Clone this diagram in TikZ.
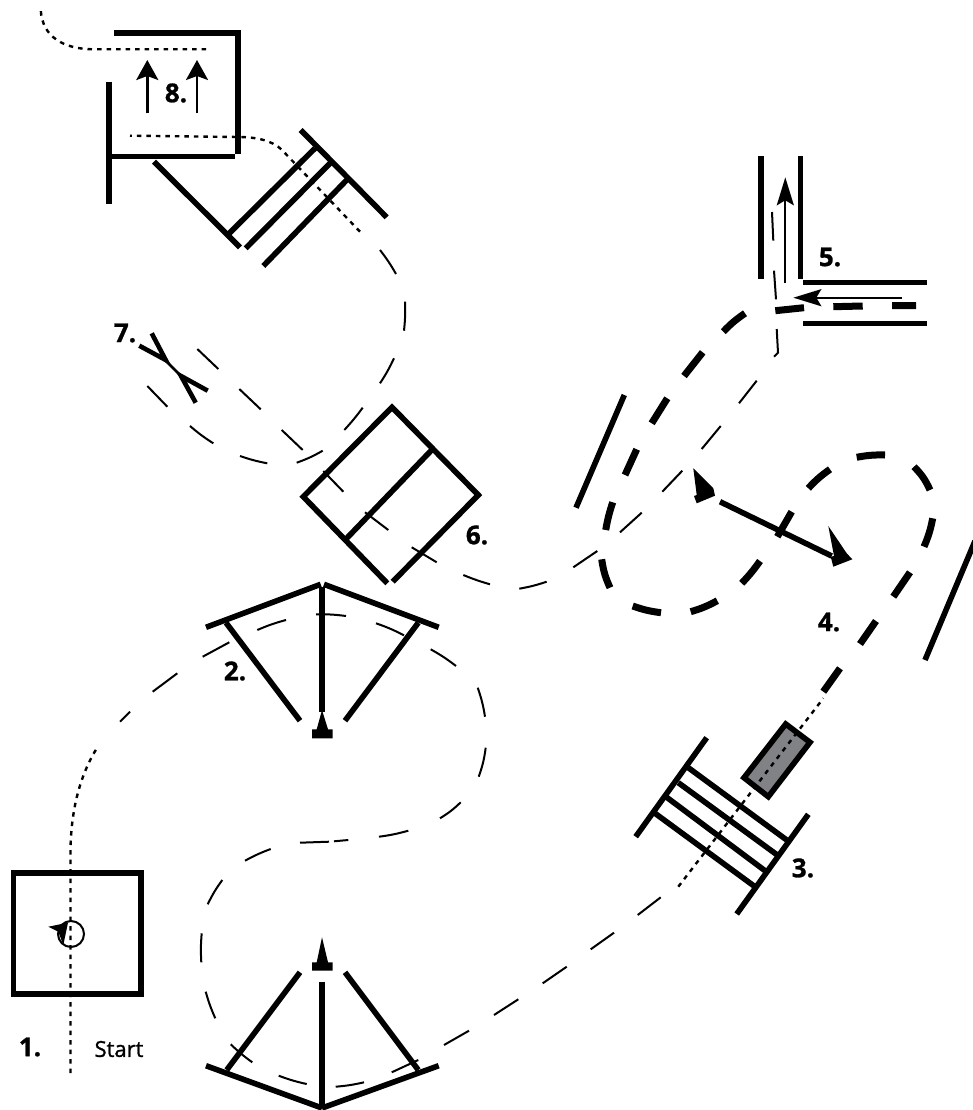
\documentclass[tikz,border=0pt]{standalone}
\usepackage{fontspec}
\setmainfont{Open Sans}
\newfontfamily\startfont[BoldFont={Open Sans},BoldFeatures={FakeBold=1.2}]{Open Sans}
\newfontfamily\numfont[BoldFeatures={RawFeature={embolden=1}}]{Open Sans}
\usepackage{tikz}
\usetikzlibrary{arrows.meta}
\definecolor{boxgray}{RGB}{128,130,133}

\begin{document}
\begin{tikzpicture}[
  x=1pt,y=-1pt,
  wall/.style={line width=5.6pt,black},
  course/.style={line width=2pt,black},
  coursebold/.style={line width=7pt,black},
  dots/.style={line width=2.4pt,black,dash pattern=on 4.5pt off 5pt},
  upstem/.style={line width=2.6pt,black,-{Stealth[length=20pt,width=22pt,inset=4pt]}},
  roadstem/.style={line width=2.2pt,black,-{Stealth[length=28pt,width=17pt,inset=5pt]}},
  label/.style={font=\fontsize{26}{26}\selectfont\numfont\bfseries,inner sep=0pt}
]
\useasboundingbox (0,0) rectangle (972,1110);
\fill[white] (0,0) rectangle (972,1110);
% 1. start box
\draw[wall] (13.5,873) rectangle (141,994);
\draw[line width=2pt] (71,934) circle (13);
\fill (48.3,926.7) -- (68,922.7) -- (63.3,945) -- (58.3,931.7) -- cycle;
\draw[dots] (70.5,1073) -- (70.5,850) .. controls (71,810) and (80,775) .. (97,748);
\node[label] (lab1) at (30,1047) {1.};
\node[font=\fontsize{22}{22}\selectfont\startfont\bfseries,inner sep=0pt] (start) at (119,1049) {Start};
% 2. the two fans
\draw[wall] (206,627.3) -- (320.7,584.3);
\draw[wall] (324,584.3) -- (438.7,627.3);
\draw[wall] (322,586.7) -- (322,711.7);
\draw[wall] (226,622.7) -- (300,720.7);
\draw[wall] (418.3,622.7) -- (345,720.7);
\fill (322,710) -- (328,729.3) -- (332.7,729.3) -- (332.7,738.3) -- (312,738.3) -- (312,729.3) -- (316.7,729.3) -- cycle;
\node[label] (lab2) at (235,671) {2.};
\draw[wall] (206,1065.7) -- (322,1108);
\draw[wall] (438.7,1065.7) -- (322,1108);
\draw[wall] (322,981.7) -- (322,1108);
\draw[wall] (226.7,1070) -- (300,972.3);
\draw[wall] (418.3,1070) -- (345,972.3);
\fill (322,937.3) -- (328,962.3) -- (332.7,962.3) -- (332.7,970.7) -- (312,970.7) -- (312,962.3) -- (316.7,962.3) -- cycle;
% first leg, thin dashes
\draw[course] (120,721.7) -- (130,711.7) (152.7,691.7) -- (177.3,673.3)
  (202.7,656.7) -- (229.3,642.3) (257.3,630) to[bend left=4] (286,620)
  (316,614.3) to[bend left=4] (346,616) (376,623.3) to[bend left=4] (404,635.3)
  (430.7,649.3) to[bend left=4] (456,666) (477.7,687.7) to[bend left=5] (485,716.7)
  (485.7,747.7) to[bend left=6] (478.7,776.7) (460.7,802.3) to[bend left=6] (440,818.3)
  (408.3,830.7) to[bend left=4] (379,836.7) (348.3,840) -- (334,841.3)
  (329,841.7) -- (300,842.7) (270.7,849) to[bend right=4] (245,860.7)
  (222.3,880) to[bend right=5] (207.7,904.3) (201.7,933.3) to[bend right=4] (201.3,962.3)
  (205.7,991.7) to[bend right=4] (215.3,1018.3) (230.7,1044.3) to[bend right=4] (252.3,1062.3)
  (278.7,1075.7) to[bend right=4] (306.7,1084) (335.7,1086.7) to[bend right=4] (364,1082.3)
  (391.7,1072.3) -- (418.3,1060) (444,1045) -- (469,1030.7)
  (494,1015) -- (518.3,999.3) (542.7,983.3) -- (566.7,966.7)
  (590.7,949.3) -- (614,932.7) (637.7,915) -- (660.7,897.3);
% 3. ladder and gray box
\draw[wall] (706.7,737.7) -- (635.7,836.7);
\draw[wall] (808.3,814.3) -- (736.7,914);
\draw[wall] (688.3,767.7) -- (786.7,840);
\draw[wall] (678.3,782.7) -- (777.3,855);
\draw[wall] (666.7,797.3) -- (765,870.7);
\draw[wall] (655,813.3) -- (754,886);
\draw[wall,fill=boxgray] (785.7,724) -- (810,742.3) -- (768.3,796.7) -- (744,777.7) -- cycle;
\draw[dots] (678.3,886.7) -- (823.3,698.3);
\node[label] (lab3) at (803,868) {3.};
% 4. bold course and arrow
\draw[coursebold] (823.3,691.7) -- (840,668.3) (860,644) -- (876,621)
  (893.3,596.7) -- (910,572.3) (924,546.7) to[bend right=6] (932.7,518.3)
  (930,490) to[bend right=10] (914,466.7) (885,455) to[bend right=6] (856.7,457.3)
  (830,469.3) to[bend right=6] (808.3,488.3) (791.7,511.7) -- (777.3,536.7)
  (760,561) to[bend left=4] (741.7,583.3) (717.3,600.7) to[bend left=6] (690.7,611.7)
  (661,612.7) to[bend left=6] (632.7,606) (610,587.7) to[bend left=8] (601.7,559.3)
  (605.7,530) to[bend left=4] (612.7,502.3) (625,475) -- (636.7,449.3)
  (651.7,423.3) -- (667.3,398.3) (684,376) -- (702.7,352.3)
  (723.3,331.7) to[bend left=6] (745,313.3) (775.3,310.7) -- (804,307.7)
  (833.3,306.7) -- (862.7,306) (892,305.7) -- (916,305.7);
\draw[wall] (720,501.7) -- (831.7,556);
\fill (693.3,468.3) -- (713.3,488.3) -- (715,495.7) -- (696.7,503.3) -- (694,496) -- (696.7,495) -- cycle;
\fill (828.3,526) -- (846.7,553.3) -- (852.3,559.3) -- (833.3,566.7) -- (830.7,556.7) -- (834,556) -- cycle;
\draw[wall] (624.3,395) -- (576,507.7);
\draw[wall] (975,541) -- (925,660);
\node[label] (lab4) at (829,622) {4.};
% 5. corner road
\draw[wall] (761,156) -- (761,279.3);
\draw[wall] (800.3,156) -- (800.3,279.3);
\draw[wall] (803.3,282.3) -- (926.7,282.3);
\draw[wall] (803.3,323.3) -- (926.7,323.3);
\draw[roadstem] (785.3,283.3) -- (785.3,177.3);
\draw[roadstem] (902.3,297.7) -- (793.3,297.7);
\node[label] (lab5) at (830,257) {5.};
% second leg, thin dashes
\draw[course] (573.3,567.3) -- (597.3,551) (620,532.3) -- (641.7,512.7)
  (662.3,491.7) -- (682.3,470.7) (701.7,449) -- (720.7,426) (739,403.3) -- (756.7,380.7)
  (774,356.7) -- (778,352.7) -- (776.7,329) (776,299.3) -- (774,270.7) (773.3,240.7) -- (772,212);
\draw[course] (546.7,581.7) to[bend left=4] (519.3,588.7) (490,584.3) to[bend left=3] (463.3,575)
  (436.7,562.3) -- (411.7,547.3) (388.3,530) -- (365,512.3) (343.3,491.7) -- (323.3,471)
  (302.7,450) -- (281.7,430) (260.7,409.3) -- (239.3,389) (218.3,369) -- (197.3,349);
% 6. square
\draw[wall] (387.3,583.3) -- (303.3,496.7) -- (392,407.3) -- (478.3,495) -- (392.7,581.7);
\draw[wall] (431.7,450) -- (346.7,538.3);
\node[label] (lab6) at (477,535) {6.};
% 7. cross
\draw[line width=2.6pt] (165,360) -- (181,376);
\draw[line width=4.6pt] (139.3,345.7) -- (165.7,360) -- (151.7,333.3);
\draw[line width=4.6pt] (207.7,390.7) -- (181,376) -- (195.7,402.7);
\node[label] (lab7) at (125,333) {7.};
\draw[course] (147.3,386) -- (167.3,406.7) (190,426) to[bend right=4] (213.3,443.3)
  (240,456) to[bend right=4] (267.3,463.3) (296.7,462.7) to[bend right=5] (322.7,450.7)
  (344.3,430) to[bend right=3] (362.7,407.7) (380,383.3) to[bend right=4] (394,358.3)
  (404,330.7) to[bend right=4] (405,301.7) (396,274) to[bend right=4] (380,250);
% 8. ladder and last box
\draw[wall] (154,161.7) -- (240,247.3);
\draw[wall] (300.7,130) -- (386.7,217.3);
\draw[wall] (229.3,233.3) -- (315,148.3);
\draw[wall] (245.7,248.3) -- (330,163.3);
\draw[wall] (263.3,266) -- (346.7,180);
\draw[wall] (114.3,33.3) -- (237.7,33.3) -- (237.7,154);
\draw[wall] (109,156.7) -- (235,156.7);
\draw[wall] (109,81.7) -- (109,204.3);
\draw[upstem] (147.3,113.3) -- (147.3,60);
\draw[upstem] (197,113.3) -- (197,60);
\node[label] (lab8) at (176,93) {8.};
\draw[dots] (360,231.7) -- (282,150) .. controls (272,140) and (255,137) .. (238,137) -- (130,135.7);
\draw[dots] (206,49.3) -- (93,49.3) .. controls (65,49) and (42,38) .. (40.7,9.3);
\end{tikzpicture}
\end{document}
